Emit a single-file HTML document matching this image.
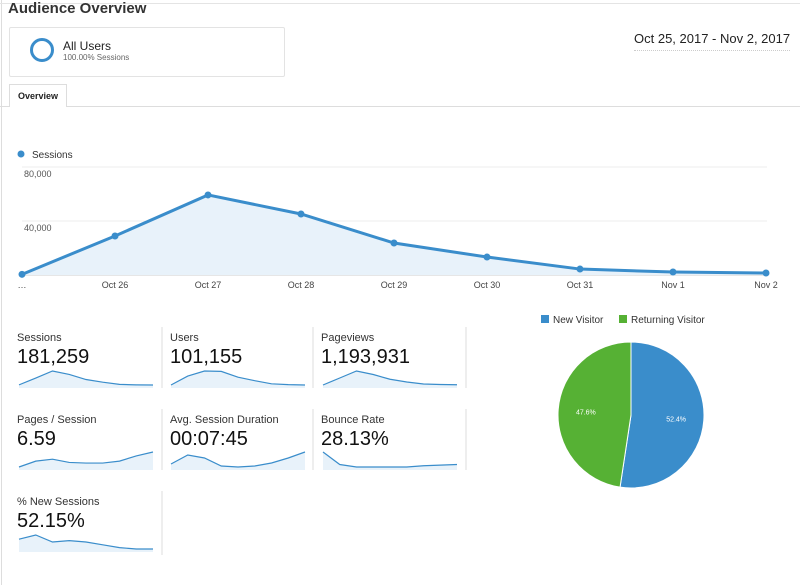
<!DOCTYPE html>
<html><head><meta charset="utf-8"><style>
body{margin:0;width:800px;height:585px;background:#fff;font-family:"Liberation Sans",sans-serif;position:relative;overflow:hidden;color:#222}
.a{position:absolute}
.lbl{font-size:11px;color:#333}
.val{font-size:20px;color:#111}
</style></head><body>
<div class="a" style="left:1px;top:0;width:1px;height:585px;background:#ddd"></div>
<div class="a" style="left:0;top:3px;width:800px;height:1px;background:#e4e4e4"></div>
<div class="a" style="left:8px;top:0px;font-size:15px;font-weight:bold;color:#333;line-height:18px">Audience Overview</div>
<div class="a" style="left:9px;top:27px;width:274px;height:48px;border:1px solid #e3e3e3;border-radius:2px">
  <div class="a" style="left:20px;top:10px;width:18px;height:18px;border:3px solid #3a8dcb;border-radius:50%"></div>
  <div class="a" style="left:53px;top:11px;font-size:12px;color:#222">All Users</div>
  <div class="a" style="left:53px;top:25px;font-size:8px;color:#666">100.00% Sessions</div>
</div>
<div class="a" style="left:634px;top:31px;font-size:13px;color:#222;border-bottom:1px dotted #ccc;padding-bottom:4px">Oct 25, 2017 - Nov 2, 2017</div>
<div class="a" style="left:9px;top:84px;width:56px;height:22px;border:1px solid #ddd;border-bottom:none;background:#fff;font-size:9px;font-weight:bold;line-height:22px;text-align:center;z-index:2">Overview</div>
<div class="a" style="left:0;top:106px;width:800px;height:1px;background:#ddd"></div>

<svg class="a" style="left:0;top:0" width="800" height="585">
  <circle cx="21" cy="154" r="3.5" fill="#3a8dcb"/>
  <text x="32" y="158" font-size="10" fill="#333">Sessions</text>
  <g id="chart"></g>
  <g id="sparks"></g>
  <g id="pie"></g>
</svg>

<div class="a lbl" style="left:17px;top:332px">Sessions</div>
<div class="a val" style="left:17px;top:346px">181,259</div>
<div class="a lbl" style="left:170px;top:332px">Users</div>
<div class="a val" style="left:170px;top:346px">101,155</div>
<div class="a lbl" style="left:321px;top:332px">Pageviews</div>
<div class="a val" style="left:321px;top:346px">1,193,931</div>
<div class="a lbl" style="left:17px;top:414px">Pages / Session</div>
<div class="a val" style="left:17px;top:428px">6.59</div>
<div class="a lbl" style="left:170px;top:414px">Avg. Session Duration</div>
<div class="a val" style="left:170px;top:428px">00:07:45</div>
<div class="a lbl" style="left:321px;top:414px">Bounce Rate</div>
<div class="a val" style="left:321px;top:428px">28.13%</div>
<div class="a lbl" style="left:17px;top:496px">% New Sessions</div>
<div class="a val" style="left:17px;top:510px">52.15%</div>

<div class="a" style="left:541px;top:315px;font-size:10px;color:#333"><span style="display:inline-block;width:8px;height:8px;background:#3a8dcb;margin-right:4px"></span>New Visitor</div>
<div class="a" style="left:619px;top:315px;font-size:10px;color:#333"><span style="display:inline-block;width:8px;height:8px;background:#56b134;margin-right:4px"></span>Returning Visitor</div>

<script>
const NS="http://www.w3.org/2000/svg";
const categories=["…","Oct 26","Oct 27","Oct 28","Oct 29","Oct 30","Oct 31","Nov 1","Nov 2"];
const sessions=[500,28900,59300,45200,23700,13300,4400,2200,1500];
const yTicks=[40000,80000];
const yTickLabels=["40,000","80,000"];
const sparkSessions=[2,30,59,45,24,13,4,2,1.5];
const sparkUsers=[2,25,38,37,22,13,5,3,2];
const sparkPageviews=[2,30,58,44,25,14,6,4,3];
const sparkPagesSession=[5.4,6.3,6.6,6.1,6.0,6.0,6.3,7.1,7.7];
const sparkDuration=[6.4,7.3,7.0,6.2,6.1,6.2,6.5,7.0,7.6];
const sparkBounce=[40,30,28,28,28,28,29,29.5,30];
const sparkNewSessions=[55,58,53,54,53,51,49,48,48];
const pieLabels=["New Visitor","Returning Visitor"];
const pieValues=[52.4,47.6];

function mk(tag,attrs,parent){const e=document.createElementNS(NS,tag);for(const k in attrs)e.setAttribute(k,attrs[k]);parent.appendChild(e);return e;}
const chart=document.getElementById('chart');
const x0=22,x1=766,yBase=275,yScale=54/40000;
const X=i=>x0+i*(x1-x0)/(categories.length-1);
const Y=v=>yBase-v*yScale;
yTicks.forEach((t,i)=>{
  const g=mk('line',{x1:22,x2:767,y1:Y(t),y2:Y(t),stroke:'#eee'},chart);
  
  
  const tx=mk('text',{x:24,y:Y(t)+10,'font-size':9,fill:'#555'},chart);
  tx.textContent=yTickLabels[i];
  
  
});
const bl=mk('line',{x1:20,x2:767,y1:yBase,y2:yBase,stroke:'#ccc'},chart);


let pts=sessions.map((v,i)=>X(i)+','+Y(v)).join(' ');
const area=mk('polygon',{points:x0+','+yBase+' '+pts+' '+x1+','+yBase,fill:'#e8f2fa'},chart);


const line=mk('polyline',{points:pts,fill:'none',stroke:'#3a8dcb','stroke-width':3},chart);


sessions.forEach((v,i)=>{
  const c=mk('circle',{cx:X(i),cy:Y(v),r:3.5,fill:'#3a8dcb'},chart);
  
  
  const t=mk('text',{x:X(i),y:288,'font-size':9,fill:'#444','text-anchor':'middle'},chart);
  t.textContent=categories[i];
  
  
});

const sp=document.getElementById('sparks');
const cols=[19,171,323],rows=[[371,385],[452,467],[535,549]];
const sparkSets=[[sparkSessions,0,0,'sessions'],[sparkUsers,1,0,'users'],[sparkPageviews,2,0,'pageviews'],[sparkPagesSession,0,1,'pages-session'],[sparkDuration,1,1,'avg-duration'],[sparkBounce,2,1,'bounce-rate'],[sparkNewSessions,0,2,'new-sessions']];
sparkSets.forEach(([data,c,r,name])=>{
  const left=cols[c],w=134,top=rows[r][0],bot=rows[r][1];
  const mn=Math.min(...data),mx=Math.max(...data);
  const sx=i=>left+i*w/(data.length-1);
  const sy=v=>bot-(v-mn)/(mx-mn||1)*(bot-top);
  const p=data.map((v,i)=>sx(i)+','+sy(v)).join(' ');
  const a=mk('polygon',{points:left+','+(bot+3)+' '+p+' '+(left+w)+','+(bot+3),fill:'#e8f2fa'},sp);
  
  
  const l=mk('polyline',{points:p,fill:'none',stroke:'#3a8dcb','stroke-width':1.2},sp);
  
  
});
[[162,327,388],[313,327,388],[466,327,388],[162,409,470],[313,409,470],[466,409,470],[162,491,555]].forEach(d=>{
  const l=mk('line',{x1:d[0],x2:d[0],y1:d[1],y2:d[2],stroke:'#ddd'},sp);
  
  
});

const pie=document.getElementById('pie');
const cx=631,cy=415,R=73,colors=['#3a8dcb','#56b134'];
const total=pieValues.reduce((a,b)=>a+b,0);
let ang=0;
pieValues.forEach((v,i)=>{
  const a0=ang,a1=ang+v/total*2*Math.PI;ang=a1;
  const p0=[cx+R*Math.sin(a0),cy-R*Math.cos(a0)],p1=[cx+R*Math.sin(a1),cy-R*Math.cos(a1)];
  const large=(a1-a0)>Math.PI?1:0;
  const s=mk('path',{d:`M${cx},${cy} L${p0[0]},${p0[1]} A${R},${R} 0 ${large} 1 ${p1[0]},${p1[1]} Z`,fill:colors[i],stroke:'#fff','stroke-width':1},pie);
  
  
  const m=(a0+a1)/2;
  const t=mk('text',{x:cx+R*0.62*Math.sin(m),y:cy-R*0.62*Math.cos(m)+3,'font-size':7,fill:'#fff','text-anchor':'middle'},pie);
  t.textContent=v.toFixed(1)+'%';
  
  
});
</script>
</body></html>
